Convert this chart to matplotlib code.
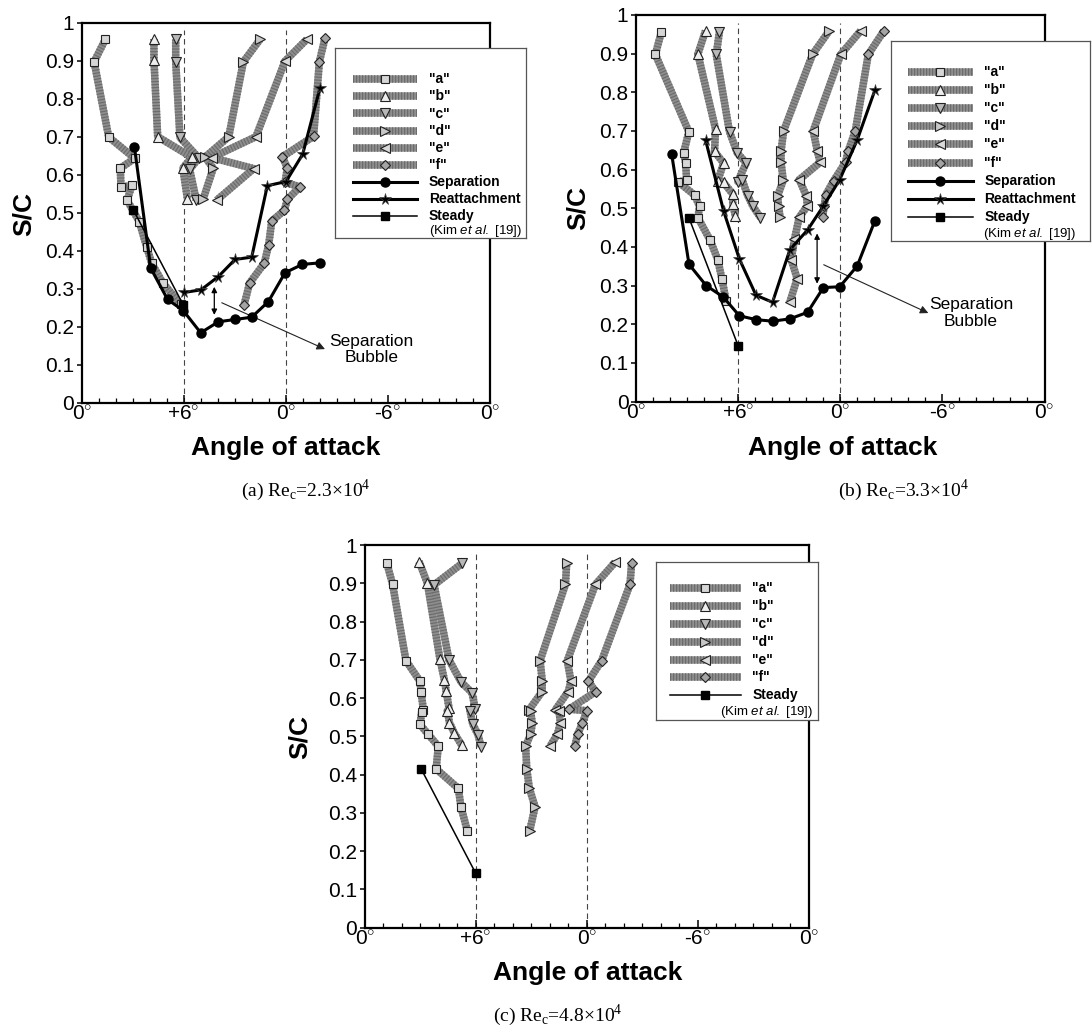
import matplotlib.pyplot as plt

plt.rcParams['font.family'] = ['Liberation Sans', 'DejaVu Sans']
plt.rcParams['mathtext.fontset'] = 'custom'
plt.rcParams['mathtext.rm'] = 'Liberation Sans'
plt.rcParams['mathtext.it'] = 'Liberation Sans:italic'
plt.rcParams['mathtext.bf'] = 'Liberation Sans:bold'

W, H = 1092, 1027

# ----------------------------- common ---------------------------------------
series_labels = ['"a"', '"b"', '"c"', '"d"', '"e"', '"f"']
series_markers = ['s', '^', 'v', '>', '<', 'D']
series_faces = ['#d6d6d6', '#eeeeee', '#b8b8b8', '#c8c8c8', '#dadada', '#a4a4a4']
series_msize = [5.5, 6.5, 6.5, 6.5, 6.5, 5.5]

angle_ticks = [0, 6, 12, 18, 24]
angle_labels = ['0', '+6', '0', '-6', '0']
sc_ticks = [0, 0.1, 0.2, 0.3, 0.4, 0.5, 0.6, 0.7, 0.8, 0.9, 1.0]
sc_labels = ['0', '0.1', '0.2', '0.3', '0.4', '0.5', '0.6', '0.7', '0.8', '0.9', '1']

# ----------------------------- (a) Re = 2.3e4 -------------------------------
a23_x = [1.39, 0.73, 1.59, 3.12, 2.27, 2.31, 2.96, 2.67, 3.39, 3.82, 4.12, 4.76, 5.82]
a23_y = [0.956, 0.897, 0.699, 0.643, 0.617, 0.567, 0.572, 0.533, 0.476, 0.41, 0.367, 0.316, 0.259]
b23_x = [4.25, 4.25, 4.47, 6.47, 5.95, 6.22]
b23_y = [0.957, 0.902, 0.700, 0.646, 0.617, 0.536]
c23_x = [5.53, 5.53, 5.78, 6.89, 6.35, 6.74]
c23_y = [0.956, 0.897, 0.698, 0.644, 0.614, 0.533]
d23_x = [10.49, 9.51, 8.65, 7.25, 7.74, 7.14]
d23_y = [0.956, 0.897, 0.700, 0.646, 0.617, 0.535]
e23_x = [13.24, 11.96, 10.25, 7.65, 10.12, 7.94]
e23_y = [0.956, 0.899, 0.700, 0.645, 0.616, 0.533]
f23_x = [14.31, 13.98, 13.64, 11.8, 12.1, 11.96, 12.84, 12.1, 11.92, 11.18, 11.0, 10.74, 9.88, 9.55]
f23_y = [0.959, 0.897, 0.701, 0.647, 0.618, 0.58, 0.568, 0.535, 0.506, 0.478, 0.416, 0.367, 0.315, 0.257]
sep23_x = [3.1, 4.06, 5.05, 5.98, 7.0, 8.04, 9.02, 10.0, 10.98, 11.96, 12.98, 14.02]
sep23_y = [0.674, 0.354, 0.272, 0.242, 0.184, 0.213, 0.219, 0.225, 0.266, 0.342, 0.364, 0.368]
rea23_x = [6.02, 7.02, 8.04, 9.02, 10.0, 10.92, 12.02, 13.0, 14.02]
rea23_y = [0.29, 0.297, 0.332, 0.377, 0.383, 0.571, 0.582, 0.654, 0.829]
std23_x = [3.04, 5.98]
std23_y = [0.507, 0.257]

# ----------------------------- (b) Re = 3.3e4 -------------------------------
a33_x = [1.48, 1.12, 3.09, 2.78, 2.90, 2.96, 2.48, 3.43, 3.72, 3.62, 4.35, 4.79, 5.04, 5.28]
a33_y = [0.957, 0.898, 0.698, 0.643, 0.617, 0.573, 0.568, 0.534, 0.505, 0.476, 0.417, 0.367, 0.316, 0.261]
b33_x = [4.07, 3.62, 4.66, 4.60, 5.13, 4.79, 5.13, 5.67, 5.67, 5.83]
b33_y = [0.959, 0.899, 0.705, 0.647, 0.617, 0.571, 0.567, 0.537, 0.510, 0.479]
c33_x = [4.89, 4.70, 5.48, 5.94, 6.46, 5.96, 6.22, 6.55, 6.86, 7.30]
c33_y = [0.957, 0.898, 0.698, 0.643, 0.617, 0.569, 0.574, 0.533, 0.505, 0.476]
d33_x = [11.34, 10.36, 8.66, 8.51, 8.51, 8.64, 8.31, 8.37, 8.45]
d33_y = [0.959, 0.898, 0.700, 0.647, 0.619, 0.572, 0.532, 0.505, 0.477]
e33_x = [13.19, 12.02, 10.40, 10.65, 10.81, 9.58, 10.0, 10.06, 9.58, 9.3, 9.11, 9.46, 9.03]
e33_y = [0.959, 0.898, 0.700, 0.647, 0.619, 0.574, 0.532, 0.506, 0.477, 0.42, 0.367, 0.318, 0.258]
f33_x = [14.56, 13.64, 12.88, 12.45, 12.3, 11.6, 11.14, 11.04, 10.96]
f33_y = [0.959, 0.898, 0.701, 0.647, 0.619, 0.571, 0.535, 0.505, 0.477]
sep33_x = [2.08, 3.1, 4.11, 5.1, 6.06, 7.04, 8.01, 9.03, 10.07, 11.0, 11.96, 12.99, 14.03]
sep33_y = [0.640, 0.355, 0.300, 0.271, 0.222, 0.212, 0.208, 0.214, 0.231, 0.295, 0.297, 0.351, 0.468]
rea33_x = [4.07, 5.14, 6.06, 7.04, 8.01, 9.03, 10.07, 11.0, 11.96, 12.99, 14.03]
rea33_y = [0.677, 0.492, 0.369, 0.275, 0.257, 0.393, 0.444, 0.506, 0.574, 0.677, 0.806]
std33_x = [3.09, 6.0]
std33_y = [0.476, 0.143]

# ----------------------------- (c) Re = 4.8e4 -------------------------------
a48_x = [1.19, 1.51, 2.23, 2.99, 3.05, 3.17, 3.08, 2.99, 3.44, 3.98, 3.86, 5.06, 5.21, 5.55]
a48_y = [0.954, 0.897, 0.698, 0.644, 0.615, 0.570, 0.564, 0.531, 0.505, 0.474, 0.415, 0.364, 0.314, 0.253]
b48_x = [2.94, 3.39, 4.07, 4.31, 4.40, 4.56, 4.47, 4.58, 4.85, 5.24]
b48_y = [0.957, 0.900, 0.701, 0.647, 0.619, 0.574, 0.567, 0.536, 0.508, 0.477]
c48_x = [5.26, 3.75, 4.56, 5.21, 5.80, 5.98, 5.69, 5.84, 6.13, 6.29]
c48_y = [0.952, 0.896, 0.700, 0.642, 0.614, 0.571, 0.567, 0.532, 0.504, 0.473]
d48_x = [10.92, 10.85, 9.48, 9.60, 9.59, 8.88, 8.97, 9.06, 8.97, 8.70, 8.76, 8.90, 9.21, 8.92]
d48_y = [0.954, 0.897, 0.698, 0.644, 0.617, 0.569, 0.565, 0.534, 0.506, 0.474, 0.415, 0.364, 0.316, 0.253]
e48_x = [13.53, 12.47, 10.95, 11.15, 11.0, 10.3, 10.5, 10.58, 10.42, 10.02]
e48_y = [0.955, 0.897, 0.698, 0.644, 0.617, 0.569, 0.566, 0.535, 0.506, 0.474]
f48_x = [14.43, 14.34, 12.81, 12.09, 12.49, 11.05, 12.0, 11.77, 11.51, 11.37]
f48_y = [0.954, 0.897, 0.698, 0.644, 0.617, 0.571, 0.567, 0.534, 0.506, 0.476]
std48_x = [3.05, 6.0]
std48_y = [0.415, 0.142]


def rect(x0, y0, x1, y1):
    # pixel box -> figure fraction
    return [x0 / W, 1 - y1 / H, (x1 - x0) / W, (y1 - y0) / H]


def at(x, y):
    return x / W, 1 - y / H


def band(ax, x, y, z=2):
    # grey hatched band used for the "a".."f" series
    ax.plot(x, y, color='#8e8e8e', lw=5.4, solid_capstyle='butt', solid_joinstyle='round', zorder=z)
    ax.plot(x, y, color='#6c6c6c', lw=5.4, ls=(0, (0.16, 0.24)), dash_capstyle='butt', zorder=z + 0.1)


def draw_series(ax, xs, ys, i):
    band(ax, xs, ys)
    ax.plot(xs, ys, ls='none', marker=series_markers[i], ms=series_msize[i],
            mfc=series_faces[i], mec='#222222', mew=0.8, zorder=3)


def draw_sep(ax, x, y):
    ax.plot(x, y, color='black', lw=2.2, marker='o', ms=6.5, zorder=5)


def draw_rea(ax, x, y):
    ax.plot(x, y, color='black', lw=2.2, marker='*', ms=8.5, mec='#444444', mew=0.5, zorder=5)


def draw_std(ax, x, y):
    ax.plot(x, y, color='black', lw=1.1, marker='s', ms=5.5, zorder=5)


def setup(ax):
    ax.set_xlim(0, 24)
    ax.set_ylim(0, 1)
    ax.set_xticks(angle_ticks)
    ax.set_xticklabels([t + r'$^{\circ}$' for t in angle_labels])
    ax.set_xticks(range(25), minor=True)
    ax.set_yticks(sc_ticks)
    ax.set_yticklabels(sc_labels)
    ax.tick_params(axis='x', which='major', direction='in', length=6, width=1.1, labelsize=15, pad=1.5)
    ax.tick_params(axis='x', which='minor', direction='in', length=3.5, width=0.9)
    ax.tick_params(axis='y', direction='out', length=3.5, width=1.1, labelsize=15, pad=2.2)
    for s in ax.spines.values():
        s.set_linewidth(1.6)
    for xv in (6, 12):
        ax.axvline(xv, 0, 0.98, color='#444444', lw=0.8, ls=(0, (5, 3.5)), zorder=1)


def draw_legend(box, hx0, hx1, tx, rows, extra, kim_pos, kim_ha='left'):
    lg = fig.add_axes(rect(*box))
    lg.set_xlim(box[0], box[2])
    lg.set_ylim(box[3], box[1])
    lg.set_xticks([])
    lg.set_yticks([])
    for s in lg.spines.values():
        s.set_linewidth(0.9)
        s.set_color('#555555')
    mid = (hx0 + hx1) / 2
    for i in range(6):
        yy = rows[i]
        band(lg, [hx0, hx1], [yy, yy])
        lg.plot([mid], [yy], ls='none', marker=series_markers[i], ms=series_msize[i],
                mfc=series_faces[i], mec='#222222', mew=0.8, zorder=3)
        lg.text(tx, yy, series_labels[i], ha='left', va='center', fontsize=10, weight='bold')
    for name, yy in zip(extra, rows[6:]):
        if name == 'Separation':
            lg.plot([hx0, hx1], [yy, yy], color='black', lw=2.2)
            lg.plot([mid], [yy], 'o', color='black', ms=6.5)
        elif name == 'Reattachment':
            lg.plot([hx0, hx1], [yy, yy], color='black', lw=2.2)
            lg.plot([mid], [yy], '*', color='black', ms=8.5, mec='#444444', mew=0.5)
        else:
            lg.plot([hx0, hx1], [yy, yy], color='black', lw=1.1)
            lg.plot([mid], [yy], 's', color='black', ms=5.5)
        lg.text(tx, yy, name, ha='left', va='center', fontsize=10, weight='bold')
    lg.text(kim_pos[0], kim_pos[1], r'(Kim $\mathit{et\ al.}$ [19])', ha=kim_ha, va='center', fontsize=9.5)


fig = plt.figure(figsize=(W / 100, H / 100), dpi=100)

# ----------------------------- panel (a) ------------------------------------
ax_a = fig.add_axes(rect(81.7, 22.7, 489.7, 402.7))
setup(ax_a)
for i, (xs, ys) in enumerate([(a23_x, a23_y), (b23_x, b23_y), (c23_x, c23_y),
                              (d23_x, d23_y), (e23_x, e23_y), (f23_x, f23_y)]):
    draw_series(ax_a, xs, ys, i)
draw_sep(ax_a, sep23_x, sep23_y)
draw_rea(ax_a, rea23_x, rea23_y)
draw_std(ax_a, std23_x, std23_y)
ax_a.annotate('', xy=(7.8, 0.231), xytext=(7.8, 0.305),
              arrowprops=dict(arrowstyle='<|-|>', lw=0.9, color='black', mutation_scale=8, shrinkA=0, shrinkB=0))
ax_a.annotate('', xy=(14.31, 0.141), xytext=(8.24, 0.263),
              arrowprops=dict(arrowstyle='-|>', lw=0.8, color='#222222', mutation_scale=12, shrinkA=0, shrinkB=0))
ax_a.text(17.06, 0.14, 'Separation\nBubble', ha='center', va='center', fontsize=12.5, linespacing=1.15)

# ----------------------------- panel (b) ------------------------------------
ax_b = fig.add_axes(rect(636.3, 15.0, 1044.5, 401.6))
setup(ax_b)
for i, (xs, ys) in enumerate([(a33_x, a33_y), (b33_x, b33_y), (c33_x, c33_y),
                              (d33_x, d33_y), (e33_x, e33_y), (f33_x, f33_y)]):
    draw_series(ax_b, xs, ys, i)
draw_sep(ax_b, sep33_x, sep33_y)
draw_rea(ax_b, rea33_x, rea33_y)
draw_std(ax_b, std33_x, std33_y)
ax_b.annotate('', xy=(10.63, 0.305), xytext=(10.63, 0.435),
              arrowprops=dict(arrowstyle='<|-|>', lw=0.9, color='black', mutation_scale=8, shrinkA=0, shrinkB=0))
ax_b.annotate('', xy=(17.17, 0.229), xytext=(11.02, 0.354),
              arrowprops=dict(arrowstyle='-|>', lw=0.8, color='#222222', mutation_scale=12, shrinkA=0, shrinkB=0))
ax_b.text(19.67, 0.229, 'Separation\nBubble', ha='center', va='center', fontsize=12.5, linespacing=1.15)

# ----------------------------- panel (c) ------------------------------------
ax_c = fig.add_axes(rect(364.7, 545.1, 808.7, 927.6))
setup(ax_c)
for i, (xs, ys) in enumerate([(a48_x, a48_y), (b48_x, b48_y), (c48_x, c48_y),
                              (d48_x, d48_y), (e48_x, e48_y), (f48_x, f48_y)]):
    draw_series(ax_c, xs, ys, i)
draw_std(ax_c, std48_x, std48_y)

# ----------------------------- legends --------------------------------------
rows_a = [79.3 + 17.1 * k for k in range(9)]
draw_legend((335.3, 47.7, 526, 238.5), 352.7, 416.7, 429, rows_a,
            ['Separation', 'Reattachment', 'Steady'], (429, 231.5))
rows_b = [71.7 + 18.2 * k for k in range(9)]
draw_legend((890.7, 40.7, 1090, 241), 908.3, 972.7, 984.3, rows_b,
            ['Separation', 'Reattachment', 'Steady'], (983.3, 233.8))
rows_c = [588.3 + 17.8 * k for k in range(7)]
draw_legend((656, 562, 818, 720), 670, 740.7, 752.3, rows_c,
            ['Steady'], (813.3, 711.7), kim_ha='right')

# ----------------------------- labels ---------------------------------------
for (lx, ly) in [(24, 214), (578, 208), (300, 737)]:
    fig.text(*at(lx, ly), 'S/C', rotation=90, ha='center', va='center', fontsize=19, weight='bold')
for (lx, ly) in [(286, 448), (843, 448), (588, 973)]:
    fig.text(*at(lx, ly), 'Angle of attack', ha='center', va='center', fontsize=19, weight='bold')

captions = ['(a) Re$_\\mathregular{c}$=2.3\u00d710$^\\mathregular{4}$',
            '(b) Re$_\\mathregular{c}$=3.3\u00d710$^\\mathregular{4}$',
            '(c) Re$_\\mathregular{c}$=4.8\u00d710$^\\mathregular{4}$']
for cap, (lx, ly) in zip(captions, [(306, 490), (903, 490), (558, 1015)]):
    fig.text(*at(lx, ly), cap, ha='center', va='center', fontsize=14, family='Liberation Serif')

fig.savefig('out.png', dpi=100)
